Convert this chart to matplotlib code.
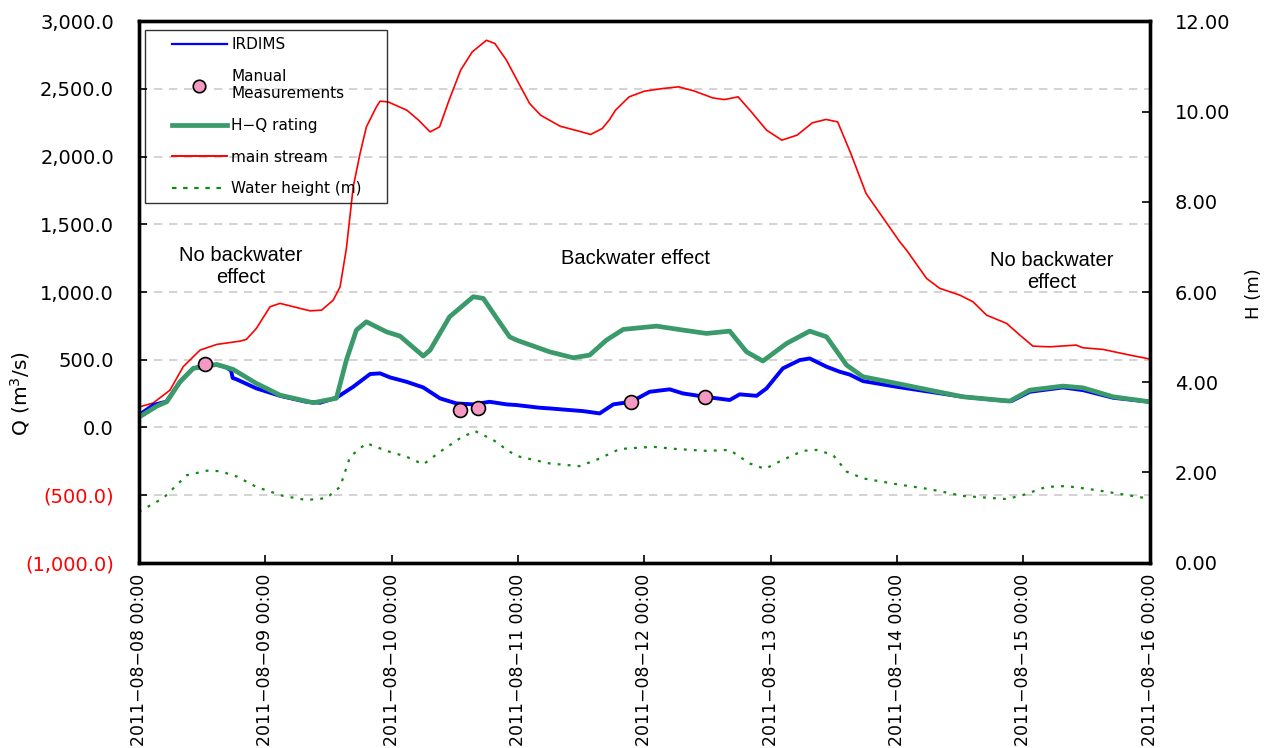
import numpy as np
import pandas as pd
import matplotlib
matplotlib.use('Agg')
import matplotlib.pyplot as plt
import matplotlib.dates as mdates
from matplotlib.lines import Line2D
from matplotlib.legend_handler import HandlerLine2D

start = pd.Timestamp('2011-08-08 00:00')

# IRDIMS discharge [hours after start, m3/s]
irdims_h = [0, 2.7, 5.2, 7.8, 10.3, 12.5, 14.8, 16.5, 17.5, 17.8,
            18.6, 22.3, 26.8, 31.8, 34.4, 37.5, 40.7, 43.9, 45.8, 47.7,
            50.8, 54.0, 57.2, 60.3, 63.5, 66.6, 69.8, 71.7, 76.1, 78.0,
            84.4, 87.5, 90.1, 93.5, 97.0, 100.8, 103.3, 107.5, 112.2, 114.1,
            117.3, 119.2, 122.3, 125.5, 127.4, 130.6, 133.1, 135.0, 137.5, 143.9,
            150.2, 156.5, 162.9, 165.7, 169.2, 175.5, 179.3, 185.0, 192.0]
irdims_q = [91, 165, 190, 335, 435, 460, 462, 445, 420, 365,
            354, 288, 233, 189, 182, 219, 300, 394, 399, 369,
            337, 295, 214, 177, 170, 189, 170, 165, 145, 140,
            120, 103, 170, 189, 263, 281, 251, 226, 202, 244,
            233, 288, 436, 497, 509, 448, 411, 390, 342, 300,
            263, 226, 202, 194, 263, 295, 275, 219, 189]

# H-Q rating curve discharge
hq_h = [0, 3.4, 5.3, 7.8, 10.3, 14.8, 17.9, 22.3, 26.8, 33.1,
        37.5, 39.4, 41.3, 43.2, 47.0, 49.6, 54.0, 55.3, 59.0, 63.5,
        65.4, 67.9, 70.4, 71.7, 78.0, 82.5, 85.6, 88.8, 92.0, 98.3,
        103.3, 107.8, 112.2, 115.4, 118.5, 123.0, 127.4, 130.6, 134.4, 137.5,
        143.9, 150.2, 156.5, 165.4, 169.2, 175.5, 179.3, 185.0, 192.0]
hq_q = [75, 157, 189, 337, 436, 465, 428, 325, 238, 182,
        215, 497, 719, 780, 706, 674, 527, 571, 817, 965,
        953, 810, 669, 645, 558, 514, 534, 645, 724, 748,
        719, 694, 711, 558, 490, 620, 711, 669, 460, 374,
        325, 275, 226, 194, 275, 305, 292, 226, 189]

# main stream discharge
main_h = [0, 2.7, 5.9, 8.4, 11.6, 14.8, 19.2, 20.4, 22.3, 24.9,
          26.8, 29.9, 32.5, 34.7, 36.9, 38.2, 39.4, 40.7, 42.0, 43.2,
          45.1, 45.8, 47.3, 50.9, 53.1, 55.3, 57.1, 58.9, 61.1, 63.3,
          66.0, 67.6, 69.8, 72.0, 74.2, 76.3, 80.0, 83.6, 85.8, 88.0,
          89.4, 90.5, 93.1, 96.0, 99.6, 102.5, 105.4, 109.0, 111.2, 113.8,
          116.3, 119.2, 122.1, 125.0, 127.9, 130.5, 132.7, 135.2, 138.1, 140.3,
          144.5, 145.8, 149.6, 152.1, 155.9, 158.4, 161.0, 164.8, 167.3, 169.8,
          173.0, 178.0, 179.3, 183.1, 188.2, 192.0]
main_q = [150, 180, 275, 448, 571, 613, 637, 650, 731, 891,
          916, 886, 861, 866, 940, 1038, 1322, 1777, 2024, 2220,
          2368, 2410, 2405, 2343, 2270, 2183, 2220, 2417, 2639, 2774,
          2860, 2836, 2713, 2552, 2393, 2306, 2225, 2188, 2164, 2208,
          2275, 2343, 2442, 2484, 2504, 2516, 2486, 2434, 2422, 2442,
          2331, 2196, 2122, 2159, 2250, 2275, 2257, 2024, 1728, 1605,
          1371, 1309, 1100, 1027, 977, 928, 829, 768, 682, 600,
          595, 608, 588, 576, 534, 505]

# water height [m], right axis
wh_h = [0, 4.6, 9.1, 12.9, 15.4, 18.6, 22.3, 27.4, 31.8, 35.6,
        38.2, 40.1, 43.2, 47.0, 50.8, 54.0, 57.2, 61.0, 63.8, 67.3,
        70.4, 72.3, 76.1, 78.0, 83.7, 87.5, 91.3, 97.6, 102.1, 107.8,
        112.2, 116.0, 118.9, 122.3, 126.1, 128.7, 131.8, 134.4, 137.5, 143.9,
        150.2, 156.5, 164.8, 167.9, 172.3, 176.1, 181.8, 191.3]
wh_m = [1.13, 1.43, 1.94, 2.04, 2.03, 1.91, 1.68, 1.48, 1.39, 1.43,
        1.68, 2.35, 2.65, 2.48, 2.35, 2.18, 2.46, 2.76, 2.92, 2.72,
        2.46, 2.35, 2.25, 2.20, 2.14, 2.31, 2.52, 2.57, 2.52, 2.48,
        2.50, 2.20, 2.08, 2.28, 2.48, 2.50, 2.39, 2.02, 1.87, 1.74,
        1.63, 1.48, 1.41, 1.50, 1.68, 1.70, 1.61, 1.43]

# manual measurements
man_h = [12.5, 60.9, 64.4, 93.4, 107.6]
man_q = [465, 128, 145, 185, 224]

q_ticks = np.arange(-1000, 3001, 500)
h_ticks = np.arange(0, 12.01, 2)


def to_time(hours):
    return start + pd.to_timedelta(hours, unit='h')


def q_label(v):
    s = f'{abs(v):,.1f}'
    return f'({s})' if v < 0 else s


plt.rcParams['font.family'] = 'DejaVu Sans'

fig = plt.figure(figsize=(12.7, 7.48), dpi=100)
ax = fig.add_axes([0.1094, 0.2477, 0.796, 0.7238])
ax2 = ax.twinx()

ax.plot(to_time(main_h), main_q, color='#ff0000', lw=1.2, zorder=2)
ax.plot(to_time(irdims_h), irdims_q, color='#0000ff', lw=2.8, zorder=3)
ax.plot(to_time(hq_h), hq_q, color='#3a9a6a', lw=3.4, zorder=4)
ax.plot(to_time(man_h), man_q, ls='none', marker='o', ms=10,
        mfc='#f49ac2', mec='black', mew=1.2, zorder=5)
ax2.plot(to_time(wh_h), wh_m, color='#118a11', lw=1.6, ls=(0, (1.3, 3.2)))

ax.set_xlim(start, start + pd.Timedelta(days=8))
ax.xaxis.set_major_locator(mdates.DayLocator())
ax.xaxis.set_major_formatter(mdates.DateFormatter('%Y\u2212%m\u2212%d %H:%M'))
ax.tick_params(axis='x', direction='in', length=6, width=1.2, pad=8,
               labelrotation=90, labelsize=12.5)

ax.set_ylim(-1000, 3000)
ax.set_yticks(q_ticks, [q_label(v) for v in q_ticks])
for v, lbl in zip(q_ticks, ax.get_yticklabels()):
    if v < 0:
        lbl.set_color('#ff0000')
ax.tick_params(axis='y', direction='in', length=6, width=1.2, pad=18, labelsize=14)
ax.grid(axis='y', color='#cccccc', lw=1.2, ls=(0, (5, 4)))
ax.set_ylabel('Q (m$^3$/s)', fontsize=14.5)
ax.yaxis.set_label_coords(-0.106, 0.313)

ax2.set_ylim(0, 12)
ax2.set_yticks(h_ticks, [f'{v:.2f}' for v in h_ticks])
ax2.tick_params(axis='y', direction='in', length=6, width=1.2, pad=18, labelsize=14)
ax2.set_ylabel('H (m)', fontsize=13)
ax2.yaxis.set_label_coords(1.094, 0.497)

for a in (ax, ax2):
    for sp in a.spines.values():
        sp.set_linewidth(2.4)

txt = dict(fontsize=14.5, family='Liberation Sans', ha='center', va='center',
           transform=ax.transAxes, linespacing=1.2)
ax.text(0.101, 0.548, 'No backwater\neffect', **txt)
ax.text(0.491, 0.562, 'Backwater effect', **txt)
ax.text(0.903, 0.538, 'No backwater\neffect', **txt)

handles = [
    Line2D([], [], color='#0000ff', lw=1.6),
    Line2D([], [], ls='none', marker='o', ms=9, mfc='#f49ac2', mec='black', mew=1.2),
    Line2D([], [], color='#3a9a6a', lw=3.4),
    Line2D([], [], color='#ff0000', lw=1.4),
    Line2D([], [], color='#118a11', lw=1.6, ls=(0, (2, 3))),
]
labels = ['IRDIMS', 'Manual\nMeasurements', 'H\u2212Q rating', 'main stream',
          'Water height (m)']
# transparent box: the main stream curve shows through it
leg = ax2.legend(handles, labels, loc='upper left',
                 bbox_to_anchor=(0.006, 0.5, 0.239, 0.484), mode='expand',
                 borderaxespad=0, fontsize=11, frameon=True, fancybox=False,
                 edgecolor='black', facecolor='none', handlelength=4.9,
                 handletextpad=0.3, labelspacing=1.1, borderpad=0.45,
                 handler_map={Line2D: HandlerLine2D(xpad=1.3)})
leg.get_frame().set_linewidth(1.0)

fig.savefig('out.png', dpi=100)
